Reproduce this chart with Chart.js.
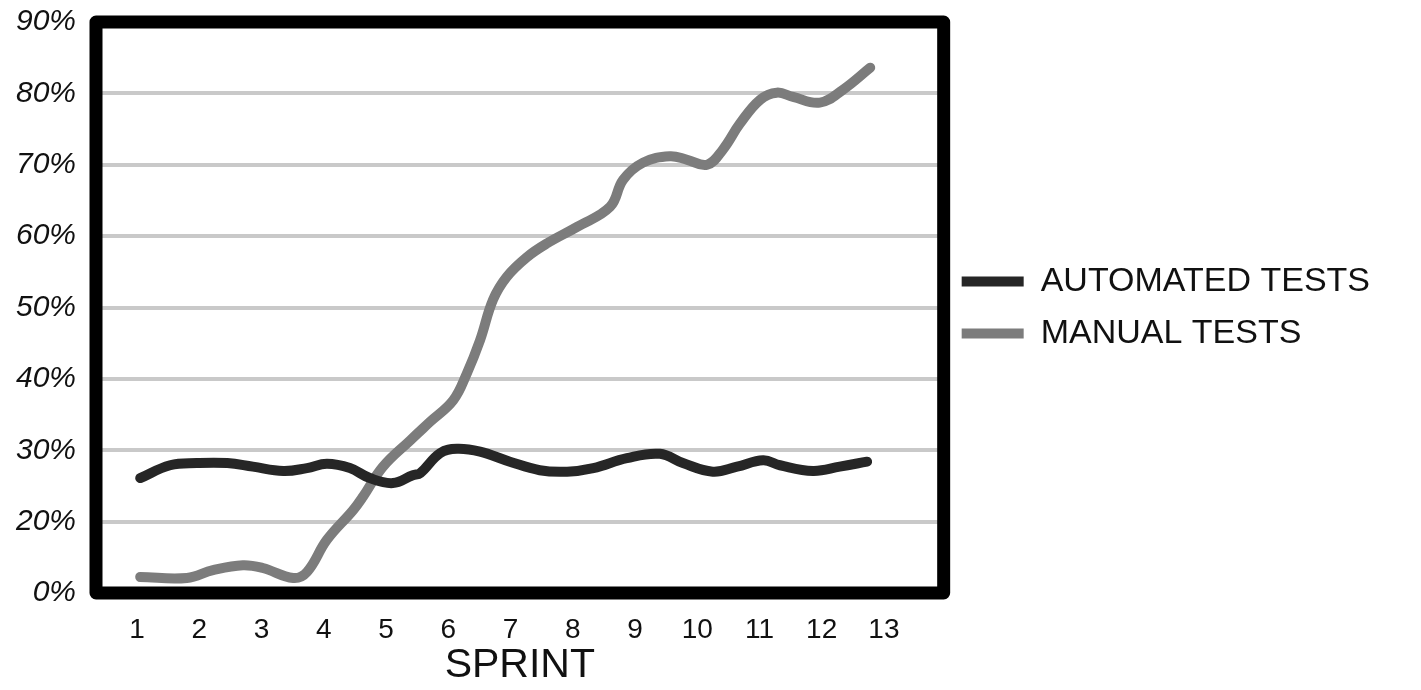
<!DOCTYPE html>
<html>
<head>
<meta charset="utf-8">
<script src="https://cdn.jsdelivr.net/npm/chart.js@4.4.1/dist/chart.umd.min.js"></script>
<style>
    html, body { margin: 0; padding: 0; background: #ffffff; }
    #wrap { width: 1421px; height: 690px; }
</style>
</head>
<body>
<div id="wrap"><canvas id="sprintChart"></canvas></div>
<script>
// sprint positions and percentages
const autoX = [1.05, 1.53, 1.96, 2.45, 2.86, 3.35, 3.73, 4.05, 4.42, 4.74, 5.11, 5.43, 5.55, 5.87, 6.14, 6.51, 6.99, 7.47, 7.91, 8.33, 8.87, 9.40, 9.77, 10.25, 10.64, 11.06, 11.33, 11.86, 12.29, 12.73];
const autoPct = [26.1, 27.9, 28.2, 28.2, 27.7, 27.1, 27.5, 28.1, 27.5, 26.1, 25.4, 26.5, 26.8, 29.6, 30.2, 29.8, 28.4, 27.2, 27.0, 27.5, 28.9, 29.5, 28.2, 27.0, 27.7, 28.6, 27.9, 27.1, 27.7, 28.4];

const manualX = [1.05, 1.80, 2.22, 2.70, 3.02, 3.51, 3.73, 4.05, 4.47, 4.63, 4.95, 5.39, 5.71, 6.08, 6.30, 6.51, 6.72, 6.94, 7.27, 7.59, 8.07, 8.60, 8.81, 9.13, 9.56, 9.84, 10.16, 10.41, 10.69, 11.01, 11.28, 11.54, 11.97, 12.34, 12.78];
const manualPct = [4.5, 4.2, 6.4, 7.8, 7.0, 4.2, 5.9, 14.9, 21.6, 23.5, 27.7, 31.4, 34.0, 37.0, 40.8, 45.4, 51.1, 54.3, 57.1, 59.0, 61.3, 64.1, 67.9, 70.3, 71.2, 70.7, 70.0, 72.1, 75.8, 79.1, 80.1, 79.5, 78.7, 80.5, 83.6];

const sprintTicks = [1, 2, 3, 4, 5, 6, 7, 8, 9, 10, 11, 12, 13];
const yTickLabels = ['0%', '20%', '30%', '40%', '50%', '60%', '70%', '80%', '90%'];
const seriesNames = ['AUTOMATED TESTS', 'MANUAL TESTS'];

// the drawn axis skips 10%: 0% and 20% sit one step apart, then 10% per step
function toAxis(v) {
    return v <= 20 ? v / 20 : (v - 10) / 10;
}

function toPoints(xs, ys) {
    return xs.map((x, i) => ({ x: x, y: toAxis(ys[i]) }));
}

const frame = {
    id: 'frame',
    afterDatasetsDraw(chart) {
        const a = chart.chartArea;
        const ctx = chart.ctx;
        ctx.save();
        ctx.strokeStyle = '#000000';
        ctx.lineWidth = 13;
        ctx.lineJoin = 'round';
        ctx.strokeRect(a.left, a.top, a.right - a.left, a.bottom - a.top);
        ctx.restore();
    }
};

const font = "'Liberation Sans', Arial, sans-serif";

new Chart(document.getElementById('sprintChart'), {
    type: 'line',
    data: {
        datasets: [{
            label: seriesNames[0],
            data: toPoints(autoX, autoPct),
            borderColor: '#262626',
            backgroundColor: '#262626',
            borderWidth: 10,
            borderCapStyle: 'round',
            borderJoinStyle: 'round',
            pointRadius: 0,
            tension: 0.4
        }, {
            label: seriesNames[1],
            data: toPoints(manualX, manualPct),
            borderColor: '#7c7c7c',
            backgroundColor: '#7c7c7c',
            borderWidth: 10,
            borderCapStyle: 'round',
            borderJoinStyle: 'round',
            pointRadius: 0,
            tension: 0.4
        }]
    },
    options: {
        responsive: true,
        maintainAspectRatio: false,
        animation: false,
        layout: { padding: { top: 22, left: 10, right: 41, bottom: 0 } },
        plugins: {
            tooltip: { enabled: false },
            legend: {
                position: 'right',
                fullSize: false,
                maxWidth: 520,
                labels: {
                    usePointStyle: true,
                    pointStyle: 'line',
                    pointStyleWidth: 62,
                    boxHeight: 10,
                    padding: 18,
                    color: '#111111',
                    font: { family: font, size: 34 }
                }
            }
        },
        scales: {
            x: {
                type: 'linear',
                min: 0.34,
                max: 13.96,
                afterBuildTicks: s => { s.ticks = sprintTicks.map(v => ({ value: v })); },
                afterFit: s => { s.height = 97; s.paddingLeft = 0; s.paddingRight = 0; },
                grid: { display: false, drawTicks: false },
                border: { display: false },
                ticks: {
                    padding: 20,
                    color: '#111111',
                    font: { family: font, size: 28 },
                    callback: v => String(v)
                },
                title: {
                    display: true,
                    text: 'SPRINT',
                    color: '#111111',
                    padding: { top: 2, bottom: 0 },
                    font: { family: font, size: 41 }
                }
            },
            y: {
                type: 'linear',
                min: 0,
                max: 8,
                afterFit: s => { s.width = 86; s.paddingTop = 0; s.paddingBottom = 0; },
                grid: {
                    drawTicks: false,
                    color: ctx => (ctx.tick.value === 0 || ctx.tick.value === 8) ? 'rgba(0,0,0,0)' : '#c9c9c9',
                    lineWidth: 4
                },
                border: { display: false },
                ticks: {
                    stepSize: 1,
                    padding: 20,
                    color: '#111111',
                    font: { family: font, size: 30, style: 'italic' },
                    callback: (v, i) => yTickLabels[i]
                }
            }
        }
    },
    plugins: [frame]
});
</script>
</body>
</html>
